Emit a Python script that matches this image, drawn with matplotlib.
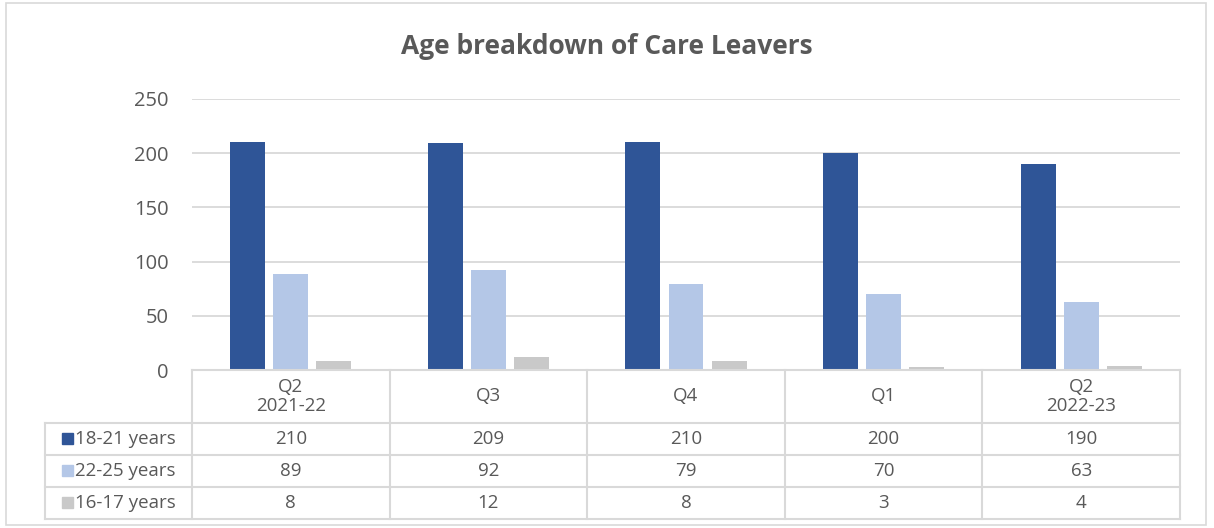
import numpy as np
import matplotlib.pyplot as plt
from matplotlib.patches import Rectangle

plt.rcParams['font.family'] = ['Open Sans', 'DejaVu Sans']

quarters = ['Q2\n2021-22', 'Q3', 'Q4', 'Q1', 'Q2\n2022-23']
series = ['18-21 years', '22-25 years', '16-17 years']
age_18_21 = [210, 209, 210, 200, 190]
age_22_25 = [89, 92, 79, 70, 63]
age_16_17 = [8, 12, 8, 3, 4]
colors = ['#2F5597', '#B4C7E7', '#C9C9C9']

text_col = '#595959'
line_col = '#D9D9D9'
W, H = 1214, 528

fig = plt.figure(figsize=(W / 100, H / 100), dpi=100)
fig.patches.append(Rectangle((6 / W, 3 / H), 1200 / W, 522 / H, transform=fig.transFigure,
                             fill=False, edgecolor=line_col, linewidth=1.2))

# plot area in pixel terms
left, right, y0, ytop = 192, 1180, 370, 99
ax = fig.add_axes([left / W, (H - y0) / H, (right - left) / W, (y0 - ytop) / H])

values = [age_18_21, age_22_25, age_16_17]
x = np.arange(len(quarters))
width = 0.177
offsets = [-0.218, 0, 0.218]
for vals, off, c, lab in zip(values, offsets, colors, series):
    ax.bar(x + off, vals, width, color=c, label=lab, zorder=3)

ax.set_xlim(-0.5, len(quarters) - 0.5)
ax.set_ylim(0, 250)
ax.set_yticks(range(0, 251, 50))
ax.yaxis.grid(True, color=line_col, linewidth=1.3, zorder=0)
ax.tick_params(axis='y', length=0, pad=17, labelsize=14.5, labelcolor=text_col)
ax.set_xticks([])
for s in ax.spines.values():
    s.set_visible(False)

fig.text(0.5, (H - 47) / H, 'Age breakdown of Care Leavers', ha='center', va='center',
         fontsize=19, fontweight='bold', color=text_col)

# data table below the plot
tleft, tbot = 45, 519
tab = fig.add_axes([tleft / W, (H - tbot) / H, (right - tleft) / W, (tbot - y0) / H])
tab.set_xlim(tleft, right)
tab.set_ylim(tbot, y0)
tab.axis('off')

col_w = (right - left) / len(quarters)
rows = [y0, 423, 455, 487, 519]
lw = 1.5
tab.plot([left, right], [y0, y0], color=line_col, lw=lw, clip_on=False)
for yy in rows[1:]:
    tab.plot([tleft, right], [yy, yy], color=line_col, lw=lw, clip_on=False)
for i in range(len(quarters) + 1):
    xx = left + i * col_w
    tab.plot([xx, xx], [y0, tbot], color=line_col, lw=lw, clip_on=False)
tab.plot([tleft, tleft], [rows[1], tbot], color=line_col, lw=lw, clip_on=False)

for i, q in enumerate(quarters):
    tab.text(left + (i + 0.5) * col_w, (rows[0] + rows[1]) / 2, q, ha='center', va='center',
             fontsize=13.5, color=text_col, linespacing=1.1)

for r, (vals, c, lab) in enumerate(zip(values, colors, series)):
    yc = (rows[r + 1] + rows[r + 2]) / 2
    tab.add_patch(Rectangle((62, yc - 6), 11, 11, color=c, clip_on=False))
    tab.text(75, yc, lab, ha='left', va='center', fontsize=13.5, color=text_col)
    for i, v in enumerate(vals):
        tab.text(left + (i + 0.5) * col_w, yc, str(v), ha='center', va='center',
                 fontsize=13.5, color=text_col)

fig.savefig('out.png', dpi=100)
